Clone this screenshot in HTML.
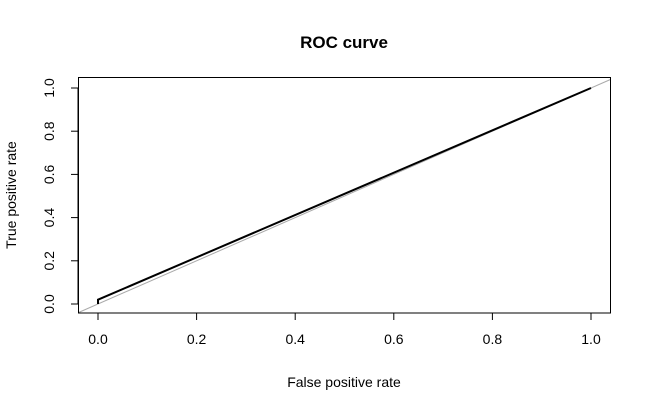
<!DOCTYPE html>
<html><head><meta charset="utf-8"><style>
body{margin:0;background:#fff;}
svg text{font-family:"Liberation Sans",Arial,sans-serif;fill:#000;}
</style></head><body>
<svg width="650" height="411" xmlns="http://www.w3.org/2000/svg">
<text x="344" y="48" font-size="17" font-weight="bold" text-anchor="middle">ROC curve</text>
<text x="344" y="387" font-size="14" text-anchor="middle">False positive rate</text>
<text transform="translate(16,195) rotate(-90)" font-size="14" text-anchor="middle">True positive rate</text>
<g id="axes"></g>
<line id="diag" stroke="#aaaaaa" stroke-width="1"/>
<polyline id="curve" fill="none" stroke="#000" stroke-width="2"/>
<rect x="78.5" y="77.5" width="532" height="235.5" fill="none" stroke="#000" stroke-width="1"/>
</svg>
<script>
const fpr=[0,0,1];
const tpr=[0,0.02,1];
const ticks=[0,0.2,0.4,0.6,0.8,1.0];
const tickLabels=["0.0","0.2","0.4","0.6","0.8","1.0"];
const X=v=>98+v*493, Y=v=>304-v*216;
const ns="http://www.w3.org/2000/svg";
const g=document.getElementById('axes');
function mk(t,a){const e=document.createElementNS(ns,t);for(const k in a)e.setAttribute(k,a[k]);return e;}
let l=mk('line',{x1:X(0),x2:X(1),y1:313,y2:313,stroke:'#000'});


g.appendChild(l);
l=mk('line',{x1:78,x2:78,y1:Y(0),y2:Y(1),stroke:'#000'});


g.appendChild(l);
ticks.forEach((t,i)=>{
 let a=mk('line',{x1:X(t),x2:X(t),y1:313,y2:320,stroke:'#000'});
 
 
 g.appendChild(a);
 let tx=mk('text',{x:X(t),y:344,'font-size':14,'text-anchor':'middle'});tx.textContent=tickLabels[i];
 
 
 g.appendChild(tx);
 let b=mk('line',{x1:71,x2:78,y1:Y(t),y2:Y(t),stroke:'#000'});
 
 
 g.appendChild(b);
 let ty=mk('text',{transform:`translate(54,${Y(t)}) rotate(-90)`,'font-size':14,'text-anchor':'middle'});ty.textContent=tickLabels[i];
 
 
 g.appendChild(ty);
});
const d=document.getElementById('diag');
d.setAttribute('x1',X(-0.04));d.setAttribute('y1',Y(-0.04));d.setAttribute('x2',X(1.04));d.setAttribute('y2',Y(1.04));
document.getElementById('curve').setAttribute('points',fpr.map((f,i)=>X(f)+','+Y(tpr[i])).join(' '));
</script>
</body></html>
